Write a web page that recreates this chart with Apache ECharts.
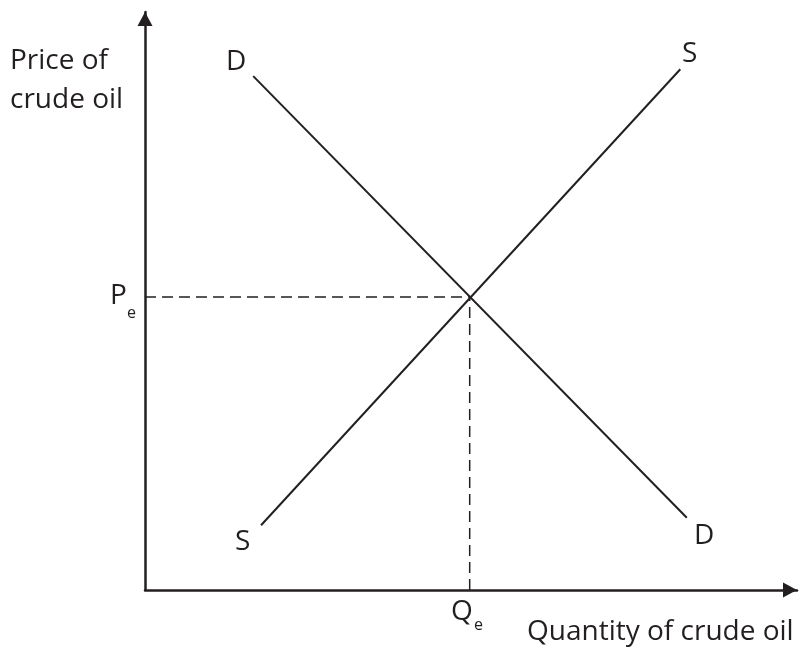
<!DOCTYPE html>
<html>
<head>
<meta charset="utf-8">
<script src="https://cdn.jsdelivr.net/npm/echarts@6/dist/echarts.min.js"></script>
<style>
  html, body { margin: 0; padding: 0; background: #fff; }
  #chart { width: 805px; height: 650px; }
</style>
</head>
<body>
<div id="chart"></div>
<script>
// curve end points, in axis units (0..100 on both axes)
const demand = [[16.6, 88.9], [83.1, 12.5]];
const supply = [[17.8, 11.2], [82.1, 90.1]];
const equilibrium = [49.8, 50.7];

const ink = '#231f20';
const font = '"Open Sans", "Noto Sans", sans-serif';

const chart = echarts.init(document.getElementById('chart'));

function txt(text, x, y, size) {
  return {
    type: 'text', left: x, top: y,
    style: { text: text, fill: ink, font: size + 'px ' + font }
  };
}

// arrow heads sit inside the axis end, tip on the end
const axisLine = {
  lineStyle: { color: ink, width: 2.5 },
  symbol: ['none', 'triangle'], symbolSize: [15, 14], symbolOffset: [0, -7]
};

chart.setOption({
  animation: false,
  grid: { left: 145, top: 12, width: 652, height: 578 },
  xAxis: {
    type: 'value', min: 0, max: 100, axisLine: axisLine,
    axisTick: { show: false }, axisLabel: { show: false }, splitLine: { show: false }
  },
  yAxis: {
    type: 'value', min: 0, max: 100, axisLine: axisLine,
    axisTick: { show: false }, axisLabel: { show: false }, splitLine: { show: false }
  },
  series: [
    { name: 'D', type: 'line', data: demand, showSymbol: false, lineStyle: { color: ink, width: 2 } },
    { name: 'S', type: 'line', data: supply, showSymbol: false, lineStyle: { color: ink, width: 2 } },
    { name: 'Pe', type: 'line', data: [[0, equilibrium[1]], equilibrium], showSymbol: false,
      lineStyle: { color: ink, width: 1.5, type: [11, 6] } },
    { name: 'Qe', type: 'line', data: [[equilibrium[0], 0], equilibrium], showSymbol: false,
      lineStyle: { color: ink, width: 1.5, type: [11, 6] } }
  ],
  graphic: [
    txt('Price of', 10, 47, 28),
    txt('crude oil', 10, 86, 28),
    txt('D', 226, 48, 28),
    txt('S', 682, 40, 28),
    txt('S', 235, 528, 28),
    txt('D', 694, 522, 28),
    txt('P', 110, 282, 28),
    txt('e', 127, 305, 16),
    txt('Q', 451, 598, 28),
    txt('e', 474, 617, 16),
    txt('Quantity of crude oil', 527, 618, 28)
  ]
});
</script>
</body>
</html>
